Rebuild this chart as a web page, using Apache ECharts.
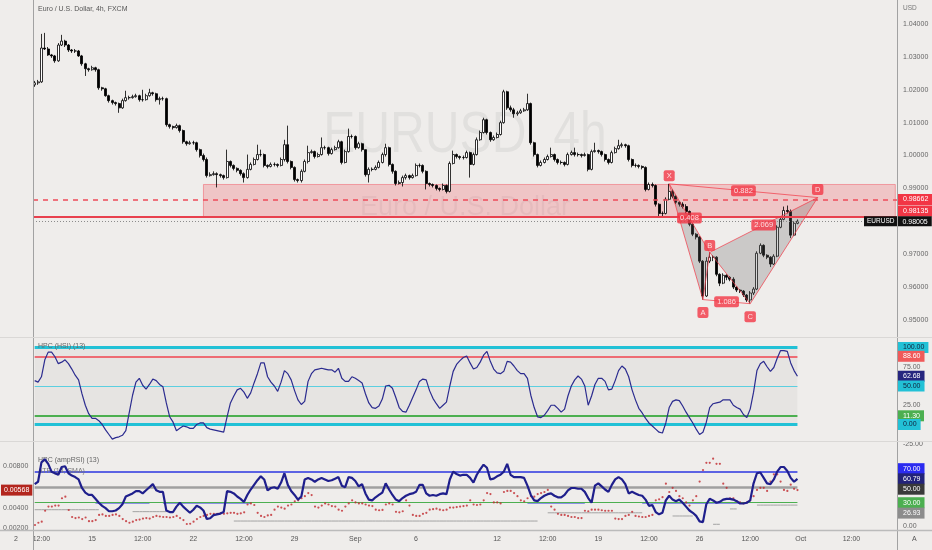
<!DOCTYPE html>
<html><head><meta charset="utf-8">
<script src="https://cdn.jsdelivr.net/npm/echarts@6/dist/echarts.min.js"></script>
<style>html,body{margin:0;padding:0;background:#efedeb}#c{width:932px;height:550px}</style>
</head><body><div id="c"></div><script>
// ---------- DATA (prices x 1e4) ----------
const FIRST_OPEN = 10215;
const closes = [10221,10224,10327,10324,10306,10303,10288,10336,10348,10336,
10321,10318,10318,10303,10279,10264,10261,10267,10261,10206,
10203,10182,10167,10161,10158,10145,10167,10176,10176,10179,
10182,10170,10170,10182,10191,10188,10170,10173,10173,10094,
10088,10085,10091,10076,10042,10036,10039,10039,10018,10000,
9988,9939,9942,9945,9942,9939,9933,9982,9970,9961,
9955,9945,9933,9958,9973,9988,10003,10003,9970,9967,
9973,9973,9970,9988,10033,9982,9964,9927,9924,9952,
9982,10009,10012,9997,10003,10024,10024,10006,10018,10024,
10042,9979,10012,10058,10058,10024,10036,10018,9942,9958,
9958,9964,9979,10003,10024,9973,9952,9915,9918,9933,
9939,9933,9939,9970,9970,9952,9915,9912,9909,9900,
9897,9909,9891,9976,10003,9997,9994,9994,10009,9973,
10003,10048,10070,10109,10070,10048,10055,10064,10100,10194,
10145,10139,10127,10130,10136,10139,10158,10039,10003,9970,
9979,9988,9997,10003,9988,9979,9979,9973,10003,10009,
10003,10003,10000,10003,9958,10012,10015,10012,10003,9988,
9979,10009,10021,10030,10033,10030,9988,9970,9970,9967,
9964,9897,9912,9909,9852,9824,9824,9867,9891,9876,
9858,9852,9845,9830,9791,9761,9752,9679,9573,9679,
9691,9691,9639,9612,9636,9630,9624,9600,9591,9588,
9576,9561,9582,9594,9703,9727,9697,9691,9670,9694,
9782,9806,9833,9830,9758,9794,9800.5];
const highs = [10227,10230,10370,10373,10330,10309,10306,10342,10367,10352,
10339,10324,10324,10321,10306,10282,10267,10273,10270,10264,
10209,10206,10185,10170,10164,10161,10173,10197,10182,10185,
10188,10185,10200,10188,10203,10194,10191,10179,10179,10176,
10097,10091,10097,10094,10079,10045,10045,10045,10042,10021,
10006,9994,9949,9952,9949,9945,9942,10018,9985,9973,
9964,9958,9949,10003,9979,9994,10033,10018,10006,9973,
9979,9979,9976,9994,10048,10091,9985,9967,9930,9958,
9988,10030,10018,10015,10009,10055,10030,10027,10024,10030,
10048,10045,10018,10082,10064,10061,10042,10039,10018,9964,
9964,9970,9985,10009,10036,10027,9976,9955,9924,9939,
9945,9942,9945,9976,9976,9973,9955,9918,9915,9912,
9903,9915,9912,9982,10015,10006,10000,10000,10015,10012,
10009,10055,10076,10115,10112,10073,10061,10070,10106,10200,
10197,10152,10145,10136,10142,10145,10188,10161,10042,10006,
9985,9994,10003,10024,10006,9991,9985,9982,10009,10015,
10024,10009,10006,10009,10006,10018,10039,10018,10015,10006,
9991,10015,10027,10048,10039,10036,10033,9991,9976,9973,
9970,9967,9918,9918,9912,9855,9830,9873,9914,9897,
9879,9861,9858,9852,9833,9794,9764,9755,9682,9691,
9706,9697,9694,9642,9642,9639,9633,9630,9603,9594,
9591,9579,9588,9600,9709,9733,9730,9700,9694,9700,
9788,9812,9845,9848,9836,9800,9806];
const lows = [10209,10215,10221,10321,10303,10297,10282,10285,10333,10330,
10315,10312,10312,10300,10273,10242,10255,10258,10255,10200,
10197,10179,10161,10155,10152,10130,10142,10164,10170,10173,
10176,10164,10164,10167,10179,10182,10164,10155,10167,10088,
10082,10079,10082,10070,10036,10030,10033,10033,10012,9994,
9982,9933,9936,9939,9903,9933,9927,9930,9964,9955,
9949,9939,9918,9930,9955,9970,9985,9997,9964,9961,
9964,9967,9964,9967,9982,9976,9958,9921,9918,9918,
9949,9976,10006,9991,9994,10000,10018,10000,10003,10015,
10021,9973,9976,10009,10052,10018,10021,10012,9936,9918,
9952,9955,9961,9976,9997,9967,9945,9909,9912,9906,
9927,9927,9930,9936,9964,9946,9897,9906,9903,9894,
9891,9894,9885,9888,9973,9991,9988,9988,9991,9933,
9970,10000,10045,10067,10064,10042,10045,10052,10061,10097,
10139,10133,10115,10121,10127,10133,10136,10033,9997,9964,
9967,9976,9985,9994,9982,9973,9973,9967,9970,10000,
9997,9997,9994,9997,9952,9955,10009,10006,9997,9982,
9973,9976,10006,10018,10024,10024,9982,9964,9964,9961,
9958,9891,9894,9903,9845,9812,9815,9821,9864,9870,
9852,9845,9839,9824,9785,9755,9745,9673,9562,9570,
9673,9679,9633,9603,9609,9621,9618,9594,9585,9582,
9570,9555,9550,9576,9591,9700,9691,9685,9661,9667,
9691,9779,9803,9824,9749,9755,9791];
const hsi = [57,55,62,84,94,94,88,79,81,84,
79,72,64,58,40,25,14,8,8,5,
0,-7,-13,-19,-17,-16,-14,-8,15,38,
55,60,51,46,52,59,57,52,49,28,
10,3,-8,-5,-2,-3,-5,-5,0,2,
2,-4,-6,-7,-8,-9,-10,10,28,37,
45,47,42,34,41,54,66,80,80,62,
55,50,43,55,70,66,58,44,32,26,
30,56,66,71,72,73,72,71,71,68,
73,60,56,56,62,60,57,54,40,28,
22,21,24,33,50,51,47,35,22,17,
16,25,35,45,56,59,58,44,34,27,
21,25,29,50,69,78,83,87,89,80,
72,74,81,90,95,82,72,67,66,69,
82,81,76,70,66,66,60,38,22,10,
9,12,18,25,25,21,16,20,37,50,
58,63,59,50,25,37,52,60,60,56,
45,46,57,70,76,72,62,45,32,21,
15,8,2,-2,-6,-10,-11,2,22,30,
32,31,24,16,9,2,-6,-13,-10,3,
22,27,28,29,32,32,32,25,22,20,
13,9,20,42,70,79,82,75,69,74,
86,96,96,95,80,70,62.68];
const ampRsi = [54,57,82,86,80,70,68,66,76,77,
68,65,63,60,49,43,40,40,35,30,
26,23,19,19,20,23,28,38,40,42,
45,45,42,46,50,54,46,44,44,20,
18,18,25,30,25,21,17,21,26,24,
20,9,10,14,15,16,18,45,44,42,
38,35,31,40,47,53,59,64,60,46,
49,50,48,56,68,53,45,40,34,38,
60,62,60,57,60,62,60,58,59,61,
63,52,50,63,62,58,51,54,42,34,
33,37,40,43,55,47,40,34,32,36,
39,41,42,44,53,53,42,39,40,39,
41,42,41,60,70,67,65,66,66,62,
56,66,73,79,75,60,61,64,66,70,
80,66,63,63,63,62,52,40,33,32,
36,39,41,42,39,37,37,40,46,49,
49,48,48,44,36,30,52,55,51,47,
44,53,60,63,60,54,42,44,42,40,
39,34,26,27,18,15,17,33,39,34,
32,34,30,25,20,17,13,6,5,28,
35,33,30,31,34,35,35,34,32,29,
29,30,33,55,68,69,62,55,54,60,
70,76,76,71,62,57,60.79];
// ATR x 1e5
const atr = [233,255,265,370,410,410,420,420,490,505,
377,310,300,305,290,305,270,270,280,330,
335,320,320,330,335,320,290,270,255,265,
280,285,295,300,295,310,320,315,310,310,
305,310,320,300,280,243,245,265,290,310,
320,330,340,340,340,345,340,345,350,350,
340,345,355,430,440,425,350,320,310,325,
330,380,410,400,390,420,430,460,470,490,
510,540,520,410,400,420,440,430,415,410,
380,370,410,440,470,450,440,440,430,420,
415,380,375,378,430,440,430,360,355,365,
470,420,330,320,320,340,350,380,385,390,
380,375,380,400,400,405,410,415,420,470,
430,425,430,470,540,530,450,450,440,550,
560,560,540,510,470,460,490,510,505,530,
540,550,570,410,380,340,330,330,320,310,
310,300,300,370,365,380,380,380,375,370,
370,370,295,290,290,320,330,360,320,315,
310,310,320,330,470,480,500,630,550,590,
560,510,490,450,420,470,510,650,760,830,
830,870,820,820,630,590,490,490,460,450,
440,450,470,510,570,590,590,560,650,720,
720,650,570,560,620,580,568];
const graySteps = [[0,19,21],[29,39,18.5],[59,149,6.4],[152,180,17],[189,195,12.9],[201,203,2.2],[206,208,22],[214,226,26.93]];
const blueFloor = [[18,34],[38,64],[146,163],[180,211]];
const patternNames = ['X','A','B','C','D'];
const patternIdx = [188,198,200,212,232];
const patternPrice = [0.9914,0.9562,0.97056,0.95496,0.98723];
const patternLabelPos = ['top','bottom','top','bottom','top'];
const patternLabelDist = [2,7,1,7,2];
const patternSegments = [[0,1],[1,2],[2,3],[3,4],[0,2],[1,3],[2,4],[0,4]];
const patternTriangles = [[0,1,2],[2,3,4]];
const ratioLabels = ['0.408','1.086','2.069','0.882'];
const ratioPairs = [[0,2],[1,3],[2,4],[0,4]];
const timeTicks = [[2,'12:00'],[17,'15'],[32,'12:00'],[47,'22'],[62,'12:00'],[77,'29'],[95,'Sep'],[113,'6'],[137,'12'],[152,'12:00'],[167,'19'],[182,'12:00'],[197,'26'],[212,'12:00'],[227,'Oct'],[242,'12:00']];
const zoneStartIdx = 50;
const zoneTop = 0.9912, dashedLevel = 0.98662, solidLevel = 0.98135, lastPrice = 0.98005;
const hsiLevels = {top:100, red:88.6, mid:50, green:11.3, bottom:0};
const hsiLast = 62.68;
const ampLevels = {blue:70, gray:50, green:30};
const ampLast = 60.79, grayLast = 26.93;
const atrLast = 0.00568;
const N_CATS = 256;

// ---------- BUILD ----------
const FONT = "'Liberation Sans', Arial, sans-serif";
const n = closes.length;
const last = n - 1;
const cats = Array.from({length: N_CATS}, (_, i) => String(i));
const candleData = closes.map((c, i) => {
  const o = i === 0 ? FIRST_OPEN : closes[i - 1];
  return [o / 1e4, c / 1e4, lows[i] / 1e4, highs[i] / 1e4];
});
const grayData = new Array(n).fill(null);
graySteps.forEach(([s, e, v]) => { for (let i = s; i <= e; i++) grayData[i] = v; });
const blueData = new Array(n).fill(null);
blueFloor.forEach(([s, e]) => { for (let i = s; i <= e; i++) blueData[i] = ampLevels.green; });
const atrData = atr.map((v, i) => [i, v / 1e5]);
const tickMap = new Map(timeTicks);

function box(text, bg, fg, dy) {
  return {show: true, position: 'end', distance: 1, formatter: text, backgroundColor: bg, color: fg,
    fontSize: 7, fontFamily: FONT, padding: [2, 4, 1, 5], lineHeight: 8, offset: [0, dy || 0]};
}
const HID = {color: 'rgba(0,0,0,0)', width: 0};
function seg(v, color, width, type) {
  return [{coord: [0, v], lineStyle: {color, width, type: type || 'solid'}, label: {show: false}}, {coord: [last, v]}];
}

const patternLines = patternSegments.map(([a, b]) => [
  {coord: [patternIdx[a], patternPrice[a]], lineStyle: {color: 'rgba(242,54,69,0.7)', width: 1, type: 'solid'}, label: {show: false}},
  {coord: [patternIdx[b], patternPrice[b]]}
]);
const labelStyle = {backgroundColor: '#f23645', color: '#fff', fontSize: 7.5, fontFamily: FONT, padding: [2, 3, 1, 3], borderRadius: 2};
const patternLabelData = patternNames.map((nm, k) => ({
  value: [patternIdx[k], patternPrice[k]],
  label: Object.assign({show: true, formatter: nm, position: patternLabelPos[k], distance: patternLabelDist[k]}, labelStyle)
})).concat(ratioPairs.map(([a, b], k) => ({
  value: [(patternIdx[a] + patternIdx[b]) / 2, (patternPrice[a] + patternPrice[b]) / 2],
  label: Object.assign({show: true, formatter: ratioLabels[k], position: 'inside'}, labelStyle)
})));

const axisText = {fontSize: 7, fontFamily: FONT, color: '#666'};
const xCommon = {type: 'category', data: cats, boundaryGap: true, axisLine: {show: false}, axisTick: {show: false}, splitLine: {show: false}, axisLabel: {show: false}};

const option = {
  animation: false,
  backgroundColor: '#efedeb',
  textStyle: {fontFamily: FONT},
  title: [
    {text: 'Euro / U.S. Dollar, 4h, FXCM', left: 38, top: 6, padding: 0, textStyle: {fontSize: 7, fontWeight: 'normal', color: '#555', fontFamily: FONT}},
    {text: 'USD', left: 903, top: 5, padding: 0, textStyle: {fontSize: 6.5, fontWeight: 'normal', color: '#777', fontFamily: FONT}},
    {text: 'HPC (HSI) (13)', left: 38, top: 343, padding: 0, textStyle: {fontSize: 7, fontWeight: 'normal', color: '#666', fontFamily: FONT}},
    {text: 'HPC (ampRSI) (13)', left: 38, top: 457, padding: 0, textStyle: {fontSize: 7, fontWeight: 'normal', color: '#666', fontFamily: FONT}},
    {text: 'ATR (14, SMA)', left: 38, top: 468, padding: 0, textStyle: {fontSize: 7, fontWeight: 'normal', color: '#777', fontFamily: FONT}},
    {text: '2', left: 14, top: 536, padding: 0, textStyle: {fontSize: 7, fontWeight: 'normal', color: '#555', fontFamily: FONT}},
    {text: 'A', left: 912, top: 536, padding: 0, textStyle: {fontSize: 7, fontWeight: 'normal', color: '#555', fontFamily: FONT}}
  ],
  graphic: [
    {type: 'text', x: 465, y: 136, scaleX: 0.83, silent: true, z: -1,
      style: {text: 'EURUSD, 4h', font: '58px ' + FONT, fill: 'rgba(0,0,0,0.055)', align: 'center', verticalAlign: 'middle', textAlign: 'center', textVerticalAlign: 'middle'}},
    {type: 'text', x: 465, y: 208, silent: true, z: -1,
      style: {text: 'Euro / U.S. Dollar', font: '27px ' + FONT, fill: 'rgba(0,0,0,0.05)', align: 'center', verticalAlign: 'middle', textAlign: 'center', textVerticalAlign: 'middle'}},
    {type: 'line', silent: true, z: 50, shape: {x1: 33.5, y1: 0, x2: 33.5, y2: 550}, style: {stroke: '#a2a2a2', lineWidth: 1}},
    {type: 'line', silent: true, z: 50, shape: {x1: 897.5, y1: 0, x2: 897.5, y2: 550}, style: {stroke: '#a2a2a2', lineWidth: 1}},
    {type: 'line', silent: true, z: 50, shape: {x1: 0, y1: 337.5, x2: 932, y2: 337.5}, style: {stroke: '#dad8d6', lineWidth: 1}},
    {type: 'line', silent: true, z: 50, shape: {x1: 0, y1: 441.5, x2: 932, y2: 441.5}, style: {stroke: '#dad8d6', lineWidth: 1}},
    {type: 'line', silent: true, z: 50, shape: {x1: 0, y1: 530.5, x2: 932, y2: 530.5}, style: {stroke: '#bbbbbb', lineWidth: 1.5}}
  ],
  grid: [
    {left: 33, right: 35, top: 24, height: 296},
    {left: 33, right: 35, top: 347.5, height: 96.25},
    {left: 33, right: 35, top: 448.4, height: 77.6},
    {left: 33, right: 35, top: 445.1, height: 104.2}
  ],
  xAxis: [
    Object.assign({}, xCommon, {gridIndex: 0}),
    Object.assign({}, xCommon, {gridIndex: 1}),
    Object.assign({}, xCommon, {gridIndex: 2, axisLabel: {show: true, interval: 0, margin: 10, fontSize: 7, fontFamily: FONT, color: '#555',
      formatter: (v) => tickMap.get(Number(v)) || ''}}),
    Object.assign({}, xCommon, {gridIndex: 3})
  ],
  yAxis: [
    {gridIndex: 0, type: 'value', position: 'right', min: 0.95, max: 1.04, interval: 0.01, scale: true,
      axisLine: {show: false}, axisTick: {show: false}, splitLine: {show: false},
      axisLabel: Object.assign({margin: 6, formatter: v => Math.abs(v - 0.98) < 1e-6 ? '' : v.toFixed(5)}, axisText)},
    {gridIndex: 1, type: 'value', position: 'right', min: -25, max: 100, interval: 25,
      axisLine: {show: false}, axisTick: {show: false}, splitLine: {show: false},
      axisLabel: Object.assign({margin: 6, formatter: v => [75, 25, -25].includes(Math.round(v)) ? v.toFixed(2) : ''}, axisText)},
    {gridIndex: 2, type: 'value', position: 'right', min: 0, max: 100, interval: 25,
      axisLine: {show: false}, axisTick: {show: false}, splitLine: {show: false},
      axisLabel: Object.assign({margin: 6, formatter: v => Math.round(v) === 0 ? '0.00' : ''}, axisText)},
    {gridIndex: 3, type: 'value', position: 'left', min: 0, max: 0.01, interval: 0.002,
      axisLine: {show: false}, axisTick: {show: false}, splitLine: {show: false},
      axisLabel: Object.assign({margin: 5, formatter: v => {
        const k = Math.round(v * 1000);
        return (k === 2 || k === 4 || k === 8) ? v.toFixed(5) : '';
      }}, axisText)}
  ],
  series: [
    {
      type: 'candlestick', xAxisIndex: 0, yAxisIndex: 0, data: candleData, barWidth: 2.6,
      itemStyle: {color: '#ffffff', color0: '#000000', borderColor: '#000000', borderColor0: '#000000', borderWidth: 0.8},
      markArea: {silent: true, itemStyle: {color: 'rgba(242,54,69,0.22)', borderColor: 'rgba(242,54,69,0.4)', borderWidth: 1},
        data: [[{coord: [zoneStartIdx, zoneTop]}, {coord: [N_CATS - 1, solidLevel]}]]},
      markLine: {silent: true, symbol: ['none', 'none'], animation: false, precision: 6,
        data: [
          {yAxis: dashedLevel, lineStyle: {color: '#ee4b59', width: 1.5, type: [5, 5]}, label: box(dashedLevel.toFixed(5), '#f23645', '#fff', 0)},
          {yAxis: solidLevel, lineStyle: {color: '#e8414e', width: 2, type: 'solid'}, label: box(solidLevel.toFixed(5), '#f23645', '#fff', -6)},
          {yAxis: lastPrice, lineStyle: {color: '#8c8c8c', width: 1, type: [1, 2]},
            label: {show: true, position: 'end', distance: 1, offset: [-34, 0],
              formatter: '{n|EURUSD}{p|' + lastPrice.toFixed(5) + '}',
              rich: {
                n: {backgroundColor: '#111', color: '#fff', fontSize: 6.5, fontFamily: FONT, padding: [2, 3, 1, 3], lineHeight: 8},
                p: {backgroundColor: '#111', color: '#fff', fontSize: 7, fontFamily: FONT, padding: [2, 4, 1, 5], lineHeight: 8}
              }}}
        ].concat(patternLines)}
    },
    {
      type: 'custom', xAxisIndex: 0, yAxisIndex: 0, silent: true, z: 3,
      data: patternTriangles.map(t => [patternIdx[t[0]], patternPrice[t[0]]]),
      renderItem: (params, api) => {
        const t = patternTriangles[params.dataIndex];
        const pts = t.map(k => api.coord([patternIdx[k], patternPrice[k]]));
        return {type: 'polygon', shape: {points: pts}, style: {fill: 'rgba(100,100,100,0.26)'}};
      }
    },
    {
      type: 'scatter', xAxisIndex: 0, yAxisIndex: 0, z: 10, silent: true, symbolSize: 1,
      itemStyle: {color: 'rgba(0,0,0,0)'}, data: patternLabelData
    },
    {
      type: 'line', xAxisIndex: 1, yAxisIndex: 1, data: hsi, showSymbol: false, z: 6,
      lineStyle: {color: '#2b2b8f', width: 1.2},
      markArea: {silent: true, itemStyle: {color: 'rgba(0,0,0,0.035)'}, data: [[{coord: [0, hsiLevels.top]}, {coord: [last, hsiLevels.bottom]}]]},
      markLine: {silent: true, symbol: ['none', 'none'], animation: false, precision: 4,
        data: [
          seg(hsiLevels.top, '#22c1d6', 3), seg(hsiLevels.red, '#f0444f', 1.5), seg(hsiLevels.mid, '#5ccfe0', 1),
          seg(hsiLevels.green, '#4caf50', 2), seg(hsiLevels.bottom, '#22c1d6', 3),
          {yAxis: hsiLevels.top, lineStyle: HID, label: box(hsiLevels.top.toFixed(2), '#22c1d6', '#10203a', 0)},
          {yAxis: hsiLevels.red, lineStyle: HID, label: box(hsiLevels.red.toFixed(2), '#f05a5a', '#fff', 0)},
          {yAxis: hsiLast, lineStyle: HID, label: box(hsiLast.toFixed(2), '#26267f', '#fff', 0)},
          {yAxis: hsiLevels.mid, lineStyle: HID, label: box(hsiLevels.mid.toFixed(2), '#22c1d6', '#10203a', 0)},
          {yAxis: hsiLevels.green, lineStyle: HID, label: box(hsiLevels.green.toFixed(2), '#4caf50', '#fff', 0)},
          {yAxis: hsiLevels.bottom, lineStyle: HID, label: box(hsiLevels.bottom.toFixed(2), '#22c1d6', '#10203a', 0)}
        ]}
    },
    {
      type: 'line', xAxisIndex: 2, yAxisIndex: 2, data: grayData, showSymbol: false, connectNulls: false, z: 3,
      lineStyle: {color: '#a3a3a3', width: 1}
    },
    {
      type: 'line', xAxisIndex: 2, yAxisIndex: 2, data: blueData, showSymbol: false, connectNulls: false, z: 4,
      lineStyle: {color: '#2b35e0', width: 1.5}
    },
    {
      type: 'line', xAxisIndex: 2, yAxisIndex: 2, data: ampRsi, showSymbol: false, z: 6,
      lineStyle: {color: '#1f1f8c', width: 2.2},
      markLine: {silent: true, symbol: ['none', 'none'], animation: false, precision: 4,
        data: [
          seg(ampLevels.blue, '#2b35e0', 1.5), seg(ampLevels.gray, '#a0a0a0', 2.5), seg(ampLevels.green, '#4caf50', 1.2),
          {yAxis: ampLevels.blue, lineStyle: HID, label: box(ampLevels.blue.toFixed(2), '#2b2bf0', '#fff', -3)},
          {yAxis: ampLast, lineStyle: HID, label: box(ampLast.toFixed(2), '#23237a', '#fff', 0)},
          {yAxis: ampLevels.gray, lineStyle: HID, label: box(ampLevels.gray.toFixed(2), '#3a3a3a', '#fff', 2)},
          {yAxis: ampLevels.green, lineStyle: HID, label: box(ampLevels.green.toFixed(2), '#4caf50', '#fff', 0)},
          {yAxis: grayLast, lineStyle: HID, label: box(grayLast.toFixed(2), '#8c8c8c', '#fff', 8)}
        ]}
    },
    {
      type: 'scatter', xAxisIndex: 3, yAxisIndex: 3, data: atrData, symbolSize: 2.2, z: 5,
      itemStyle: {color: '#c0282d'},
      markLine: {silent: true, symbol: ['none', 'none'], animation: false, precision: 8,
        data: [{yAxis: atrLast, lineStyle: HID,
          label: {show: true, position: 'start', distance: 1, formatter: atrLast.toFixed(5), backgroundColor: '#b3261e', color: '#fff',
            fontSize: 7, fontFamily: FONT, padding: [2, 3, 1, 3], lineHeight: 8}}]}
    }
  ]
};
const chart = echarts.init(document.getElementById('c'), null, {renderer: 'canvas'});
chart.setOption(option);
</script></body></html>
